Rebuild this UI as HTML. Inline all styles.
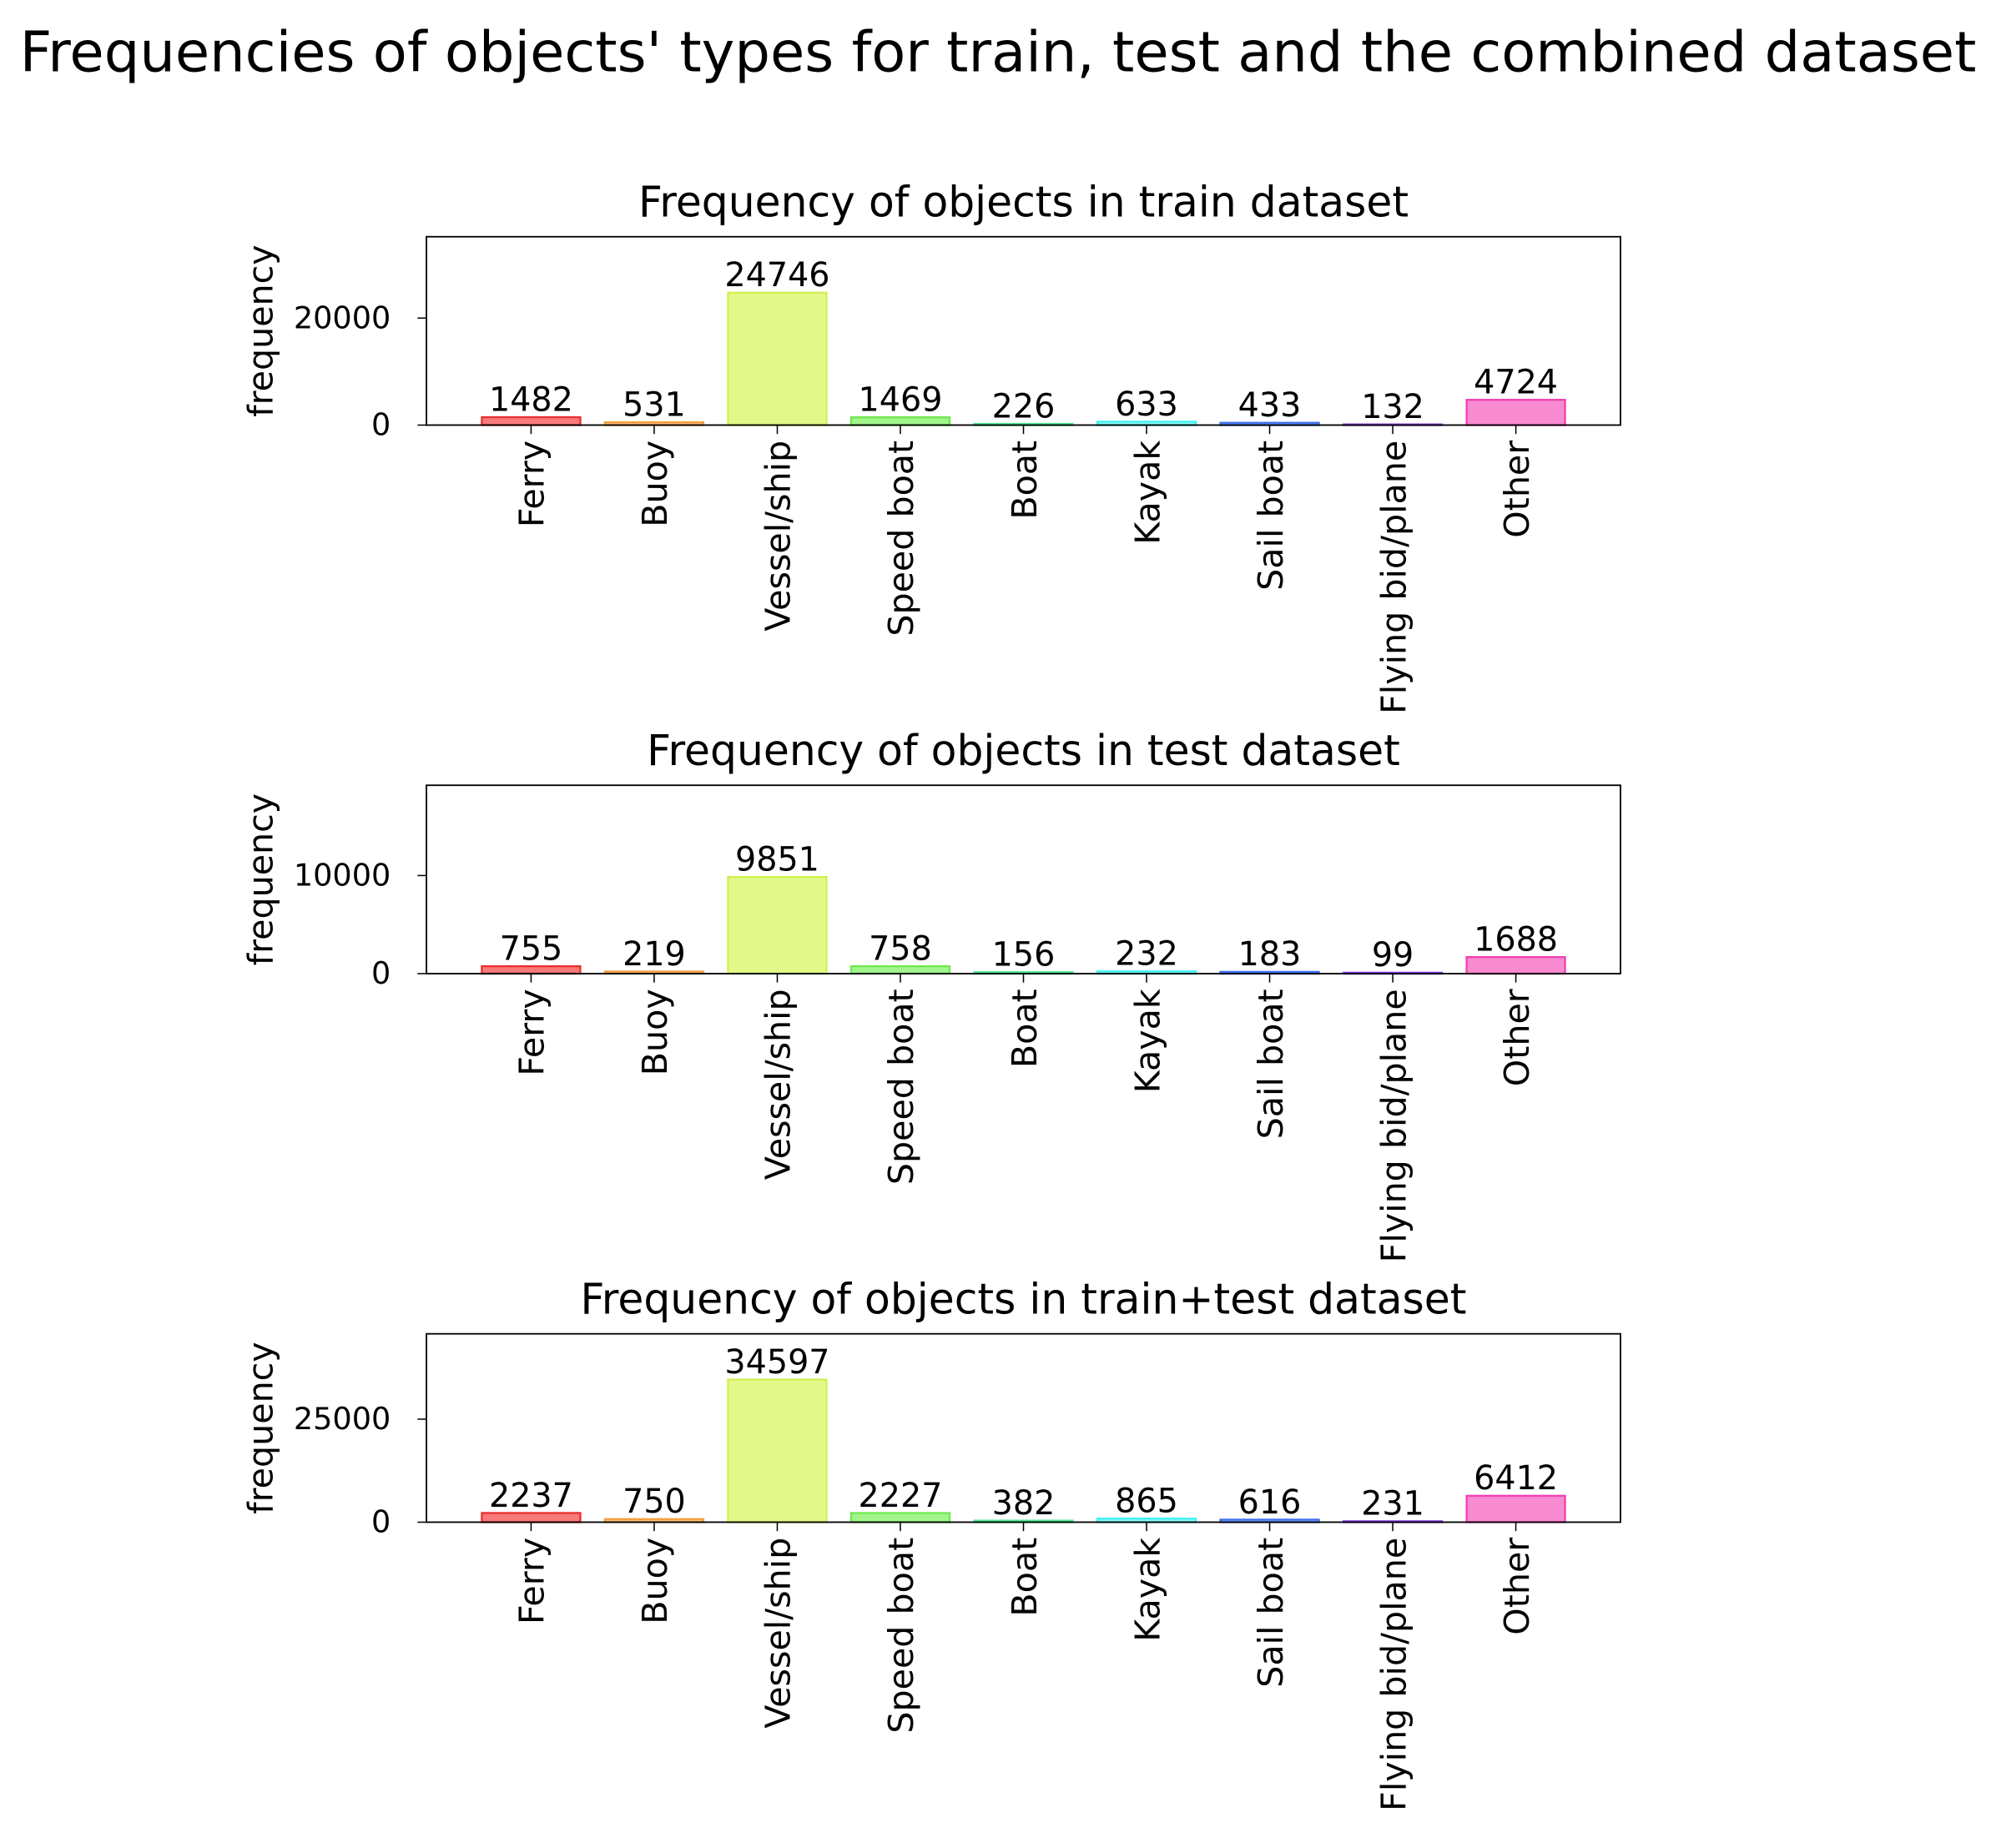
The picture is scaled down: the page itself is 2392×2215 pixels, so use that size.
<!DOCTYPE html>
<html><head><meta charset="utf-8"><style>
html,body{margin:0;padding:0;background:#fff}
svg{display:block;font-family:"DejaVu Sans","Liberation Sans",sans-serif}
</style></head><body>
<svg id="chart" width="2392" height="2215" viewBox="0 0 1568 1452" preserveAspectRatio="none" xmlns="http://www.w3.org/2000/svg">
<rect width="1568" height="1452" fill="#fff"/>
<text x="784" y="56" font-size="44" text-anchor="middle">Frequencies of objects' types for train, test and the combined dataset</text>
</svg>
<script>
const categories = ["Ferry","Buoy","Vessel/ship","Speed boat","Boat","Kayak","Sail boat","Flying bid/plane","Other"];
const trainValues = [1482,531,24746,1469,226,633,433,132,4724];
const testValues = [755,219,9851,758,156,232,183,99,1688];
const combinedValues = [2237,750,34597,2227,382,865,616,231,6412];
const trainTicks = [0,20000];
const testTicks = [0,10000];
const combinedTicks = [0,25000];
const titles = ["Frequency of objects in train dataset","Frequency of objects in test dataset","Frequency of objects in train+test dataset"];

const fills = ["#f87a7a","#f8c080","#e2f98a","#a2f58a","#8af5b0","#8af8f5","#8ab0f8","#c08af8","#f88ad0"];
const edges = ["#e83030","#f0a040","#d0f050","#70e850","#50e890","#40f0f0","#4070f0","#9040f0","#f040b0"];

const NS="http://www.w3.org/2000/svg";
const svg=document.getElementById('chart');
function mk(tag,attrs,parent){const e=document.createElementNS(NS,tag);for(const k in attrs)e.setAttribute(k,attrs[k]);(parent||svg).appendChild(e);return e;}

const panels=[
 {vals:trainValues,ticks:trainTicks,top:186,ymax:35200,name:'train'},
 {vals:testValues,ticks:testTicks,top:617,ymax:19200,name:'test'},
 {vals:combinedValues,ticks:combinedTicks,top:1048,ymax:45700,name:'combined'}
];
const L=335,R=1273,H=148,xmin=-0.85,xmax=8.85;
panels.forEach((p,pi)=>{
  const g=mk('g',{});
  
  
  const bottom=p.top+H;
  const xs=i=>L+(i-xmin)/(xmax-xmin)*(R-L);
  const ys=v=>bottom-v/p.ymax*H;
  const bw=0.8/(xmax-xmin)*(R-L);
  const t=mk('text',{x:(L+R)/2,y:p.top-16,'font-size':33,'text-anchor':'middle'},g);
  t.textContent=titles[pi];
  
  
  p.vals.forEach((v,i)=>{
    const r=mk('rect',{x:xs(i)-bw/2,y:ys(v),width:bw,height:bottom-ys(v),fill:fills[i],stroke:edges[i],'stroke-width':1.5},g);
    
    
    const lt=mk('text',{x:xs(i),y:ys(v)-5,'font-size':26,'text-anchor':'middle'},g);
    lt.textContent=v;
    
    
    mk('line',{x1:xs(i),x2:xs(i),y1:bottom,y2:bottom+7,stroke:'#000','stroke-width':1},g);
    const cl=mk('text',{x:0,y:0,'font-size':27,'text-anchor':'end',transform:`translate(${xs(i)+10},${bottom+12}) rotate(-90)`},g);
    cl.textContent=categories[i];
    
    
  });
  p.ticks.forEach(tv=>{
    mk('line',{x1:L-7,x2:L,y1:ys(tv),y2:ys(tv),stroke:'#000','stroke-width':1},g);
    const tl=mk('text',{x:L-28,y:ys(tv)+8,'font-size':24,'text-anchor':'end'},g);
    tl.textContent=tv;
    
    
  });
  const yl=mk('text',{x:0,y:0,'font-size':27,'text-anchor':'middle',transform:`translate(214,${p.top+H/2}) rotate(-90)`},g);
  yl.textContent='frequency';
  
  
  const fr=mk('rect',{x:L,y:p.top,width:R-L,height:H,fill:'none',stroke:'#000','stroke-width':1.2},g);
  
  
});
</script>
</body></html>
